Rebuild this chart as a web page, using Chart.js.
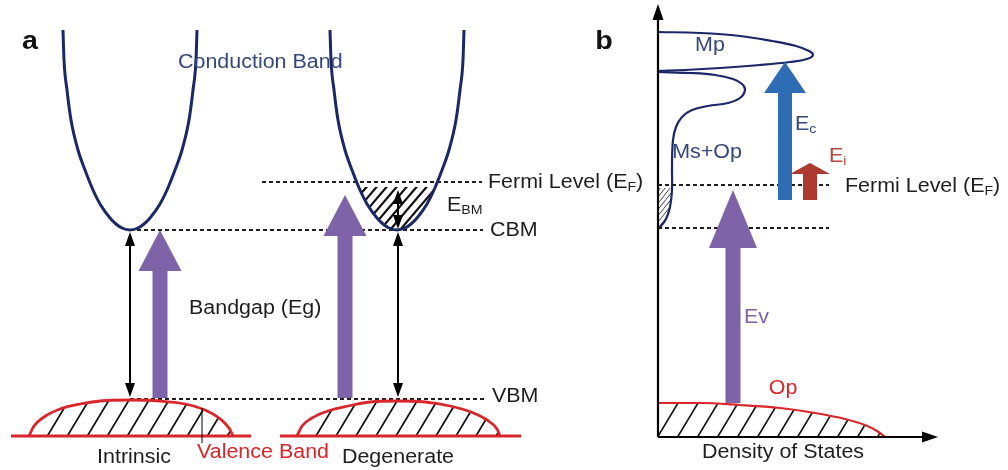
<!DOCTYPE html>
<html>
<head>
<meta charset="utf-8">
<script src="https://cdn.jsdelivr.net/npm/chart.js@4.4.1/dist/chart.umd.min.js"></script>
<style>
  html, body { margin: 0; padding: 0; background: #fff; }
  #wrap { width: 1008px; height: 470px; }
</style>
</head>
<body>
<div id="wrap"><canvas id="bands" width="1008" height="470"></canvas></div>
<script>
// ---- panel a: band edges (x = position across the sketch, y = energy, downward) ----
const cb_intrinsic = [[63,30],[64,60],[67,90],[71,120],[78,150],[85,170],[93,190],[100,204],[110,218],[116,224],[122,228],[130,230],[138,228],[144,224],[150,218],[160,204],[167,190],[175,170],[182,150],[189,120],[193,90],[196,60],[197,30]];
const cb_degenerate = [[330,30],[331,60],[334,90],[338,120],[345,150],[352,170],[360,190],[367,204],[377,218],[383,224],[389,228],[397,230],[405,228],[411,224],[417,218],[427,204],[434,190],[442,170],[449,150],[456,120],[460,90],[463,60],[464,30]];
const vb_intrinsic = [[29,436],[34,426],[44,417],[60,409],[80,404],[100,401],[130,400],[160,401],[185,404],[205,410],[219,418],[229,428],[233,436]];
const vb_degenerate = [[297,436],[302,426],[312,418],[328,411],[348,406],[370,402],[398,401],[425,402],[450,406],[471,412],[487,420],[497,429],[500,436]];
const vb_floor = [[11, 251], [280, 521]];   // x span of each valence band floor
const vb_floor_y = 436;

// dashed energy levels, panel a
const levels_a = ['Fermi Level', 'CBM', 'VBM'];
const levels_a_y = [182, 230, 399];
const levels_a_x = [[262, 482], [130, 483], [130, 485]];

// gap arrows: [x, from, to]
const gap_arrows = [[130, 232, 397], [398, 232, 397], [398, 190, 229]];
const purple_a = [[160, 398, 230], [345, 398, 195]];   // [x, base, tip]

// ---- panel b: density of states ----
const dos_axis_x = 658;
const dos_axis_y = 437;
const dos_mp = [[658,32],[700,33],[740,36],[772,41],[796,46],[809,51],[813,55],[807,59],[790,62],[760,65],[720,68],[685,70],[658,71]];
const dos_ms_op = [[658,72],[690,73],[715,75],[733,79],[742,84],[745,90],[740,98],[728,103],[708,106],[692,110],[682,117],[676,127],[673,140],[672,165],[672,190],[670,207],[666,219],[661,226],[658,229]];
const dos_op = [[658,403],[700,403],[740,405],[780,408],[815,413],[845,419],[865,425],[877,431],[885,437]];
const levels_b = ['Fermi Level', 'lower edge'];
const levels_b_y = [185, 228];
const levels_b_x = [[658, 829], [658, 829]];
const arrow_ev = [733, 403, 190];
const arrow_ec = [785, 200, 62];
const arrow_ei = [810, 200, 163];

const NAVY = '#1b2868';
const NAVY_TEXT = '#34497a';
const RED = '#d8262a';
const PURPLE = '#7f63a8';
const INK = '#1e1e1e';
const FONT = '"Liberation Sans", Arial, sans-serif';
const SX = 1.1;   // the lettering is a little wide

const xy = a => a.map(([x, y]) => ({ x, y }));
const seg = (x0, x1, y) => [{ x: x0, y }, { x: x1, y }];

// smooth y(x) curves (x keeps increasing)
function band(data, color, width) {
  return { data: xy(data), showLine: true, borderColor: color, borderWidth: width, pointRadius: 0, cubicInterpolationMode: 'monotone', fill: false };
}
// free loops that turn back on themselves
function curve(data, color, width) {
  return { data: xy(data), showLine: true, borderColor: color, borderWidth: width, pointRadius: 0, tension: 0.4, fill: false };
}
function rule(points, color, width, dash) {
  return { data: points, showLine: true, borderColor: color, borderWidth: width, pointRadius: 0, tension: 0, borderDash: dash || [], fill: false };
}

const datasets = [
  band(cb_intrinsic, NAVY, 3),
  band(cb_degenerate, NAVY, 3),
  band(vb_intrinsic, RED, 2.8),
  band(vb_degenerate, RED, 2.8),
  ...vb_floor.map(([a, b]) => rule(seg(a, b, vb_floor_y), RED, 2.8)),
  ...levels_a_y.map((y, i) => rule(seg(levels_a_x[i][0], levels_a_x[i][1], y), INK, 2, [4, 3])),
  ...levels_b_y.map((y, i) => rule(seg(levels_b_x[i][0], levels_b_x[i][1], y), INK, 2, [4, 3])),
  rule([{ x: dos_axis_x, y: dos_axis_y }, { x: dos_axis_x, y: 14 }], '#000', 2.2),
  rule([{ x: dos_axis_x, y: dos_axis_y }, { x: 924, y: dos_axis_y }], '#000', 2.2),
  curve(dos_mp, NAVY, 2.2),
  curve(dos_ms_op, NAVY, 2.2),
  band(dos_op, RED, 2.2),
];

// text placed on the sketch
const notes = [
  { parts: ['a'], x: 30, y: 42, size: 26, bold: true, color: '#111', align: 'center' },
  { parts: ['b'], x: 604, y: 42, size: 26, bold: true, color: '#111', align: 'center' },
  { parts: ['Conduction Band'], x: 178, y: 63, color: NAVY_TEXT },
  { parts: ['Fermi Level (E', ['F'], ')'], x: 488, y: 183 },
  { parts: ['E', ['BM']], x: 447, y: 206 },
  { parts: ['CBM'], x: 490, y: 231 },
  { parts: ['Bandgap (Eg)'], x: 189, y: 309 },
  { parts: ['VBM'], x: 492, y: 397 },
  { parts: ['Intrinsic'], x: 134, y: 458, align: 'center' },
  { parts: ['Valence Band'], x: 263, y: 453, align: 'center', color: RED },
  { parts: ['Degenerate'], x: 398, y: 458, align: 'center' },
  { parts: ['Mp'], x: 710, y: 46, align: 'center', color: NAVY_TEXT },
  { parts: ['Ms+Op'], x: 707, y: 153, align: 'center', color: NAVY_TEXT },
  { parts: ['E', ['c']], x: 795, y: 125, color: NAVY_TEXT },
  { parts: ['E', ['i']], x: 829, y: 157, color: '#b8443a' },
  { parts: ['Fermi Level (E', ['F'], ')'], x: 845, y: 187 },
  { parts: ['Ev'], x: 744, y: 318, color: PURPLE },
  { parts: ['Op'], x: 783, y: 389, align: 'center', color: RED },
  { parts: ['Density of States'], x: 783, y: 453, align: 'center' },
];

function richText(ctx, note) {
  const size = note.size || 19.5;
  const weight = note.bold ? 'bold ' : '';
  const pieces = note.parts.map(p => Array.isArray(p)
    ? { t: p[0], f: weight + (size * 0.66) + 'px ' + FONT, dy: size * 0.22 }
    : { t: p, f: weight + size + 'px ' + FONT, dy: 0 });
  let total = 0;
  pieces.forEach(p => { ctx.font = p.f; p.w = ctx.measureText(p.t).width; total += p.w; });
  let x = note.align === 'center' ? -total / 2 : 0;
  ctx.save();
  ctx.translate(note.x, note.y);
  ctx.scale(SX, 1);
  ctx.fillStyle = note.color || INK;
  ctx.textBaseline = 'middle';
  pieces.forEach(p => { ctx.font = p.f; ctx.fillText(p.t, x, p.dy); x += p.w; });
  ctx.restore();
}

function hatch(ctx, poly, step, lean, width, clipTop) {
  ctx.save();
  ctx.beginPath();
  poly.forEach((p, i) => i ? ctx.lineTo(p.x, p.y) : ctx.moveTo(p.x, p.y));
  ctx.closePath();
  ctx.clip();
  if (clipTop !== undefined) {
    ctx.beginPath();
    ctx.rect(0, clipTop, 1008, 470 - clipTop);
    ctx.clip();
  }
  const ys = poly.map(p => p.y), xs = poly.map(p => p.x);
  const top = Math.min(...ys), bot = Math.max(...ys);
  const left = Math.min(...xs), right = Math.max(...xs);
  const run = (bot - top) * lean;
  ctx.beginPath();
  for (let x = left - run; x < right + step; x += step) {
    ctx.moveTo(x, bot);
    ctx.lineTo(x + run, top);
  }
  ctx.strokeStyle = '#111';
  ctx.lineWidth = width;
  ctx.stroke();
  ctx.restore();
}

function blockArrow(ctx, x, base, tip, shaft, headW, headL, color) {
  const dir = tip < base ? 1 : -1;
  const neck = tip + dir * headL;
  ctx.beginPath();
  ctx.moveTo(x - shaft / 2, base);
  ctx.lineTo(x - shaft / 2, neck);
  ctx.lineTo(x - headW / 2, neck);
  ctx.lineTo(x, tip);
  ctx.lineTo(x + headW / 2, neck);
  ctx.lineTo(x + shaft / 2, neck);
  ctx.lineTo(x + shaft / 2, base);
  ctx.closePath();
  ctx.fillStyle = color;
  ctx.fill();
}

function head(ctx, x, y, dx, dy, w, l) {
  // filled arrowhead pointing along (dx, dy)
  const px = -dy, py = dx;
  ctx.beginPath();
  ctx.moveTo(x, y);
  ctx.lineTo(x - dx * l + px * w / 2, y - dy * l + py * w / 2);
  ctx.lineTo(x - dx * l - px * w / 2, y - dy * l - py * w / 2);
  ctx.closePath();
  ctx.fill();
}

const bandArt = {
  id: 'bandArt',
  beforeDatasetsDraw(chart) {
    const { ctx, scales: { x, y } } = chart;
    const P = a => a.map(([u, v]) => ({ x: x.getPixelForValue(u), y: y.getPixelForValue(v) }));
    hatch(ctx, P(vb_intrinsic), 20, 0.6, 1.7);
    hatch(ctx, P(vb_degenerate), 20, 0.6, 1.7);
    hatch(ctx, P(cb_degenerate), 10, 0.85, 2.2, y.getPixelForValue(levels_a_y[0]) + 5);
    hatch(ctx, P(dos_op.concat([[dos_axis_x, dos_axis_y]])), 20, 0.6, 1.6);
    hatch(ctx, P(dos_ms_op), 5, 0.8, 0.8, y.getPixelForValue(levels_b_y[0]) + 3);
  },
  afterDatasetsDraw(chart) {
    const { ctx, scales: { x, y } } = chart;
    const X = v => x.getPixelForValue(v), Y = v => y.getPixelForValue(v);

    // thin double-headed gap arrows
    ctx.save();
    ctx.strokeStyle = '#000';
    ctx.fillStyle = '#000';
    ctx.lineWidth = 2;
    gap_arrows.forEach(([u, a, b]) => {
      ctx.beginPath();
      ctx.moveTo(X(u), Y(a) + 10);
      ctx.lineTo(X(u), Y(b) - 10);
      ctx.stroke();
      head(ctx, X(u), Y(a), 0, -1, 10, 14);
      head(ctx, X(u), Y(b), 0, 1, 10, 14);
    });
    // leader line for the valence band label
    ctx.lineWidth = 1;
    ctx.beginPath();
    ctx.moveTo(X(202), Y(408));
    ctx.lineTo(X(202), Y(443));
    ctx.stroke();

    // axis arrowheads of panel b
    head(ctx, X(dos_axis_x), Y(4), 0, -1, 11, 16);
    head(ctx, X(938), Y(dos_axis_y), 1, 0, 11, 16);
    ctx.restore();

    // block arrows
    purple_a.forEach(([u, b, t]) => blockArrow(ctx, X(u), Y(b), Y(t), 15, 43, 41, PURPLE));
    blockArrow(ctx, X(arrow_ev[0]), Y(arrow_ev[1]), Y(arrow_ev[2]), 15, 48, 58, PURPLE);
    blockArrow(ctx, X(arrow_ec[0]), Y(arrow_ec[1]), Y(arrow_ec[2]), 14, 42, 31, '#2e6db4');
    blockArrow(ctx, X(arrow_ei[0]), Y(arrow_ei[1]), Y(arrow_ei[2]), 14, 40, 11, '#ad3a30');

    notes.forEach(n => richText(ctx, n));
  }
};

new Chart(document.getElementById('bands'), {
  type: 'scatter',
  data: { datasets },
  options: {
    responsive: false,
    animation: false,
    devicePixelRatio: 1,
    events: [],
    layout: { padding: 0 },
    plugins: { legend: { display: false }, tooltip: { enabled: false } },
    scales: {
      x: { type: 'linear', min: 0, max: 1008, display: false },
      y: { type: 'linear', min: 0, max: 470, reverse: true, display: false }
    }
  },
  plugins: [bandArt]
});
</script>
</body>
</html>
